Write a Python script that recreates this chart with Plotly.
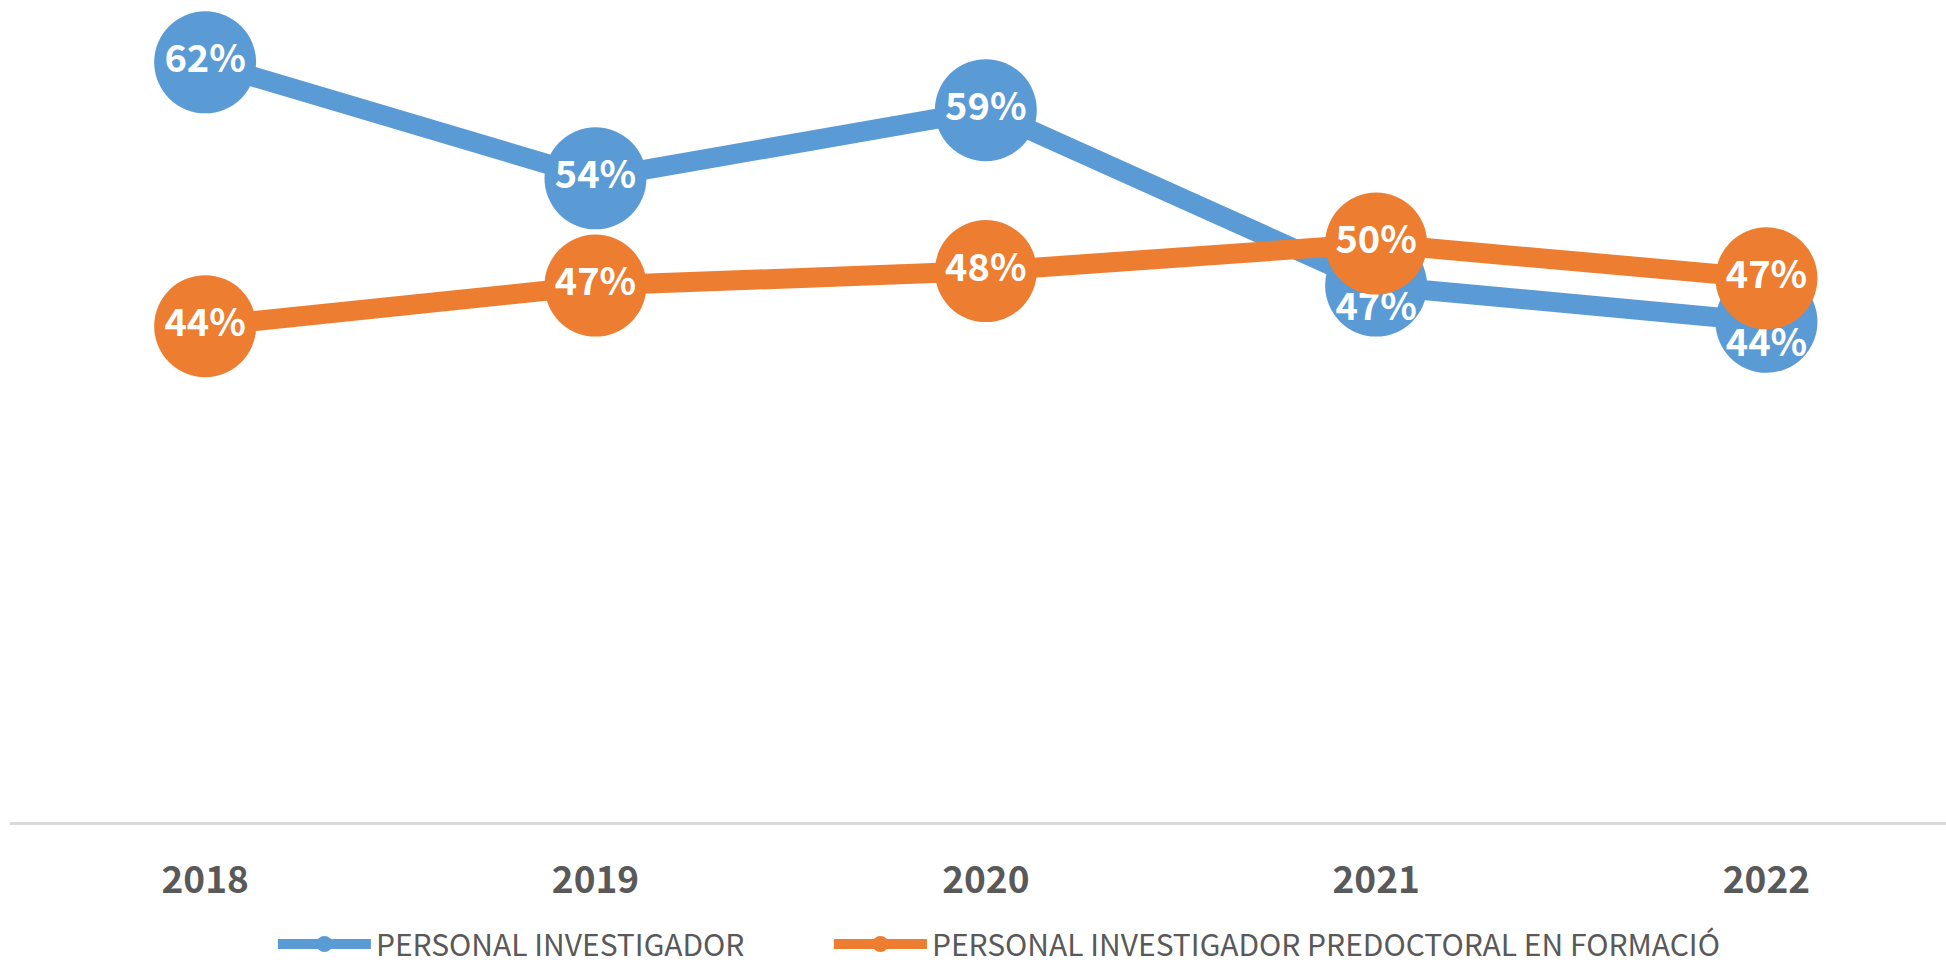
"""
Share of women by staff group, 2018-2022 (line + labelled bubbles).
"""

import plotly.graph_objects as go

YEARS = ["2018", "2019", "2020", "2021", "2022"]
INVESTIGADOR = [62.0, 54.0, 58.7, 46.6, 44.1]
PREDOCTORAL = [43.8, 46.6, 47.6, 49.5, 47.1]
NAMES = ["PERSONAL INVESTIGADOR", "PERSONAL INVESTIGADOR PREDOCTORAL EN FORMACIÓ"]

BLUE = "#5B9BD5"
ORANGE = "#ED7D31"
GREY = "#595959"
NARROW = "Noto Sans CJK SC, Roboto, sans-serif"
LABEL_FONT = dict(family=NARROW, size=38, color="white", weight="bold")

fig = go.Figure()

# blue series: labels centred on the first three bubbles only
fig.add_trace(go.Scatter(
    x=YEARS, y=INVESTIGADOR, name=NAMES[0], mode="lines+markers+text",
    line=dict(color=BLUE, width=20),
    marker=dict(color=BLUE, size=102),
    texttemplate=["%{y:.0f}%"] * 3 + [""] * 2,
    textposition="middle center", textfont=LABEL_FONT,
    legendwidth=448, cliponaxis=False, hoverinfo="skip"))

# last two blue labels sit lower so they show under the orange bubbles
fig.add_trace(go.Scatter(
    x=YEARS[3:], y=INVESTIGADOR[3:], mode="markers+text", showlegend=False,
    marker=dict(size=8, opacity=0),
    texttemplate="%{y:.0f}%", textposition="bottom center", textfont=LABEL_FONT,
    cliponaxis=False, hoverinfo="skip"))

fig.add_trace(go.Scatter(
    x=YEARS, y=PREDOCTORAL, name=NAMES[1], mode="lines+markers+text",
    line=dict(color=ORANGE, width=20),
    marker=dict(color=ORANGE, size=102),
    texttemplate="%{y:.0f}%", textposition="middle center", textfont=LABEL_FONT,
    legendwidth=850, cliponaxis=False, hoverinfo="skip"))

fig.update_layout(
    width=1946, height=964,
    margin=dict(l=10, r=0, t=0, b=142, autoexpand=False),
    paper_bgcolor="white", plot_bgcolor="white",
    font=dict(family=NARROW, color=GREY),
    showlegend=True,
    legend=dict(orientation="h", x=0.1358, xanchor="left", y=-0.1484, yanchor="middle",
                font=dict(family=NARROW, size=30, color=GREY),
                itemwidth=93, bgcolor="rgba(0,0,0,0)"),
)
fig.update_xaxes(
    type="category", range=[-0.5, 4.46], showgrid=False, zeroline=False,
    showline=True, linecolor="#D9D9D9", linewidth=3, ticks="",
    ticklabelstandoff=24,
    tickfont=dict(family=NARROW, size=37, color=GREY, weight="bold"))
fig.update_yaxes(range=[9.6, 66.3], visible=False, showgrid=False, zeroline=False)

# drop the default body margin so the figure sits at the page origin
fig.write_html("out.html", config={"displayModeBar": False},
               post_script="document.body.style.margin='0';")
